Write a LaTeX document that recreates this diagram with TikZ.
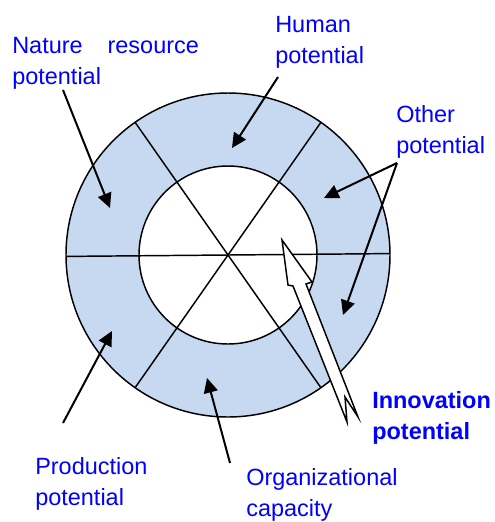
\documentclass[tikz,border=0pt]{standalone}
\usepackage{fontspec}
\setmainfont{Liberation Sans}
\usepackage{xcolor}
\usetikzlibrary{calc}
\usetikzlibrary{arrows.meta}
\definecolor{ringblue}{RGB}{198,217,240}
\definecolor{labelblue}{RGB}{0,0,255}

\begin{document}
\begin{tikzpicture}[
x=0.75pt, y=-0.75pt,
labelnode/.style={anchor=base west, inner sep=0pt, align=left, text=labelblue, font=\fontsize{17.6}{23.25}\selectfont},
ringline/.style={draw=black, line width=1.1pt},
pointer/.style={-{Triangle[length=11pt, width=10.5pt]}, line width=1.5pt},
bigarrow/.style={draw=black, fill=white, line width=1.1pt, line join=miter},
]
\useasboundingbox (0,0) rectangle (494,522);

%Rings
\coordinate (c) at (228,255);
\fill[ringblue] (c) circle[radius=162];
\fill[white] (c) circle[radius=89];
\draw[ringline] (c) circle[radius=162];
\draw[ringline] (c) circle[radius=89];
\foreach \a in {-0.5,55,125}
	\draw[ringline] ($(c)+(\a:162)$) -- ($(c)+(\a+180:162)$);

%Nodes (placed at the baseline of their last line)
\node[labelnode]	(nature)	at (12,84)	{\makebox[140pt][s]{Nature resource}\\potential};
\node[labelnode]	(human)		at (275,63)	{Human\\potential};
\node[labelnode]	(other)		at (396,153)	{Other\\potential};
\node[labelnode, font=\fontsize{17.6}{23.25}\selectfont\bfseries]	(innov)	at (372,439)	{Innovation\\potential};
\node[labelnode]	(prod)		at (35,505)	{Production\\potential};
\node[labelnode]	(org)		at (246,516)	{Organizational\\capacity};

%Points
\coordinate (natfrom)	at (63,90);
\coordinate (natto)		at (110,208);
\coordinate (humfrom)	at (278,77);
\coordinate (humto)		at (232,148);
\coordinate (othfrom)	at (397,163);
\coordinate (othtoa)	at (324,198);
\coordinate (othtob)	at (343,315);
\coordinate (prodfrom)	at (63,423);
\coordinate (prodto)	at (112,331);
\coordinate (orgfrom)	at (230,463);
\coordinate (orgto)		at (207,378);

%Innovation arrow
\draw[bigarrow] (282,240) -- (288,285) -- (293,286) -- (347,422) -- (345,397) -- (358,417) -- (306,284) -- (312,282) -- cycle;

%Lines
\draw[pointer] (natfrom) -- (natto);
\draw[pointer] (humfrom) -- (humto);
\draw[pointer] (othfrom) -- (othtoa);
\draw[pointer] (othfrom) -- (othtob);
\draw[pointer] (prodfrom) -- (prodto);
\draw[pointer] (orgfrom) -- (orgto);
\end{tikzpicture}
\end{document}
